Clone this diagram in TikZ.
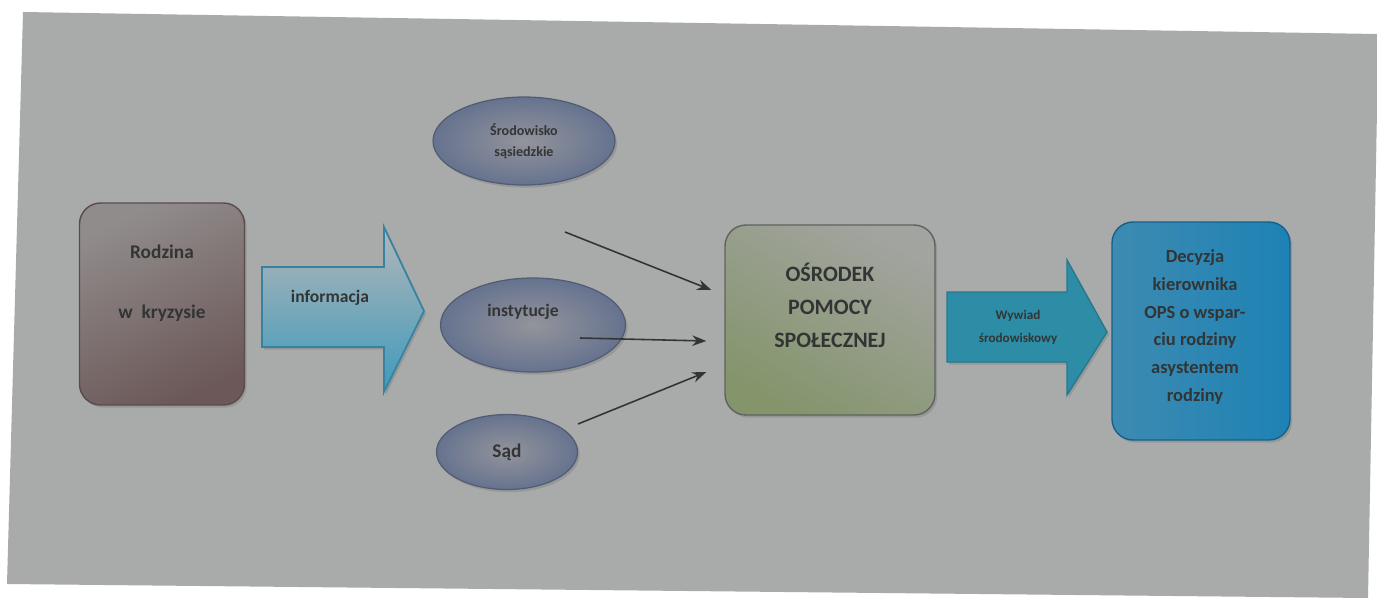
\documentclass[tikz,border=0pt]{standalone}
\usepackage{fontspec}
\setmainfont{Carlito}
\usepackage{tikz}
\usetikzlibrary{arrows.meta,shapes.geometric,shadows}
\usepackage{xcolor}

\definecolor{tlo}{HTML}{A9AAAA}
\definecolor{tekst}{HTML}{333535}
\definecolor{rodzA}{HTML}{918C8C}
\definecolor{rodzB}{HTML}{6C5858}
\definecolor{opsA}{HTML}{A2A49F}
\definecolor{opsB}{HTML}{84956C}
\definecolor{decA}{HTML}{9AA5AB}
\definecolor{decB}{HTML}{1E82B4}
\definecolor{elA}{HTML}{93949B}
\definecolor{elB}{HTML}{66738F}
\definecolor{infA}{HTML}{B2B6B8}
\definecolor{infB}{HTML}{3E9ABC}
\definecolor{wywA}{HTML}{2E8DA6}
\definecolor{wywB}{HTML}{86A5AD}

\begin{document}
\begin{tikzpicture}[x=0.02cm,y=-0.02cm,
    cien/.style={drop shadow={shadow xshift=1.2pt,shadow yshift=-1.5pt,opacity=0.45}},
    pudlo/.style={rectangle,rounded corners=0.42cm,cien,line width=0.8pt,inner sep=0pt},
    owal/.style={ellipse,cien,inner sep=0pt,draw=elB!80!black,line width=0.7pt,
      inner color=elA,outer color=elB,text=tekst,font=\bfseries,align=center},
    napis/.style={text=tekst,font=\bfseries,align=center,inner sep=0pt}]
  \useasboundingbox (0,0) rectangle (1377,602);
  \fill[white] (0,0) rectangle (1377,602);
  % tlo slajdu
  \fill[tlo] (23,12) -- (1377,34) -- (1377,110) -- (1368,598) -- (7,584) -- cycle;

  % bloki
  \node[pudlo,draw=rodzB!85!black,top color=rodzA,bottom color=rodzB,shading angle=25,
    minimum width=3.3cm,minimum height=4.04cm] (rodz) at (162,304) {};
  \node[pudlo,draw=opsA!60!black,top color=opsA,bottom color=opsB,shading angle=-30,
    minimum width=4.2cm,minimum height=3.8cm] (ops) at (830,320) {};
  \node[pudlo,draw=decB!75!black,left color=decB!75!decA,middle color=decA,right color=decB,
    minimum width=3.56cm,minimum height=4.36cm] (dec) at (1201,331) {};

  \node[owal,minimum width=3.64cm,minimum height=1.76cm,
    font=\bfseries\fontsize{8}{12}\selectfont] (sasiad) at (524,141)
    {Środowisko\\sąsiedzkie};
  \node[owal,minimum width=3.7cm,minimum height=1.88cm] (inst) at (533,325) {};
  \node[owal,minimum width=2.82cm,minimum height=1.5cm,
    font=\bfseries\fontsize{11}{13}\selectfont] (sad) at (507,452) {Sąd};

  % strzalki blokowe
  \draw[cien,draw=infB!85!black,line width=1pt,top color=infA,bottom color=infB]
    (262,267) -- (384,267) -- (384,227) -- (424,311) -- (384,392)
    -- (384,347) -- (262,347) -- cycle;
  \draw[cien,draw=wywA!85!black,line width=0.8pt,left color=wywA,middle color=wywB,right color=wywA]
    (947,292) -- (1067,292) -- (1067,260) -- (1107,332) -- (1067,395)
    -- (1067,362) -- (947,362) -- cycle;

  % napisy
  \node[napis,font=\bfseries\fontsize{11}{13}\selectfont] (rodztxt) at (162,283)
    {Rodzina\\[0.75cm]w~~kryzysie};
  \node[napis,font=\bfseries\fontsize{10}{12}\selectfont] (inftxt) at (330,298) {informacja};
  \node[napis,font=\bfseries\fontsize{10}{12}\selectfont] (insttxt) at (523,312) {instytucje};
  \node[napis,font=\bfseries\fontsize{12.5}{18.7}\selectfont] (opstxt) at (830,305)
    {OŚRODEK\\POMOCY\\SPOŁECZNEJ};
  \node[napis,font=\bfseries\fontsize{7.5}{13}\selectfont] (wywtxt) at (1018,327)
    {Wywiad\\środowiskowy};
  \node[napis,font=\bfseries\fontsize{10.5}{15.9}\selectfont] (dectxt) at (1195,327)
    {Decyzja\\kierownika\\OPS o wspar-\\ciu rodziny\\asystentem\\rodziny};

  % zgloszenia do OPS
  \coordinate (z1) at (565,232);
  \coordinate (z2) at (580,338);
  \coordinate (z3) at (578,424);
  \begin{scope}[>={Stealth[length=8pt,width=6pt]},
      every edge/.style={draw=tekst,line width=0.9pt}]
    \path [->] (z1) edge ([shift={(-13,-30)}]ops.west);
    \path [->] (z2) edge ([shift={(-18,21)}]ops.west);
    \path [->] (z3) edge ([shift={(-18,52)}]ops.west);
  \end{scope}
\end{tikzpicture}
\end{document}
